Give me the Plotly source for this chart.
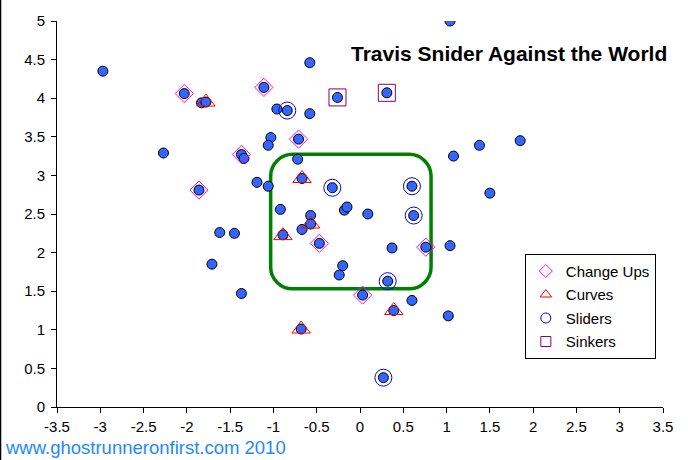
import plotly.graph_objects as go

# ---------------- data ----------------
pitch_x = [-2.97, -2.03, -1.83, -1.78, -1.11, -0.96, -0.84, -1.03, -1.06, -2.27,
           -1.37, -1.34, -1.19, -1.06, -1.86, -0.92, 1.04, -0.58, -0.26, 0.31,
           -0.58, -0.71, -0.72, 1.08, 1.38, 1.85, 1.50, -0.67, -0.32, 0.60,
           -0.18, -0.15, 0.09, -0.89, -1.62, -1.45, -1.71, -1.37, -0.57, -0.57,
           -0.67, -0.47, 0.62, 0.37, 0.76, 1.04, -0.20, -0.24, 0.32, 0.03,
           0.60, 0.39, 1.02, -0.68, 0.27]
pitch_y = [4.35, 4.06, 3.94, 3.95, 4.14, 3.86, 3.84, 3.49, 3.39, 3.29,
           3.27, 3.22, 2.91, 2.86, 2.81, 2.56, 5.00, 4.46, 4.01, 4.07,
           3.80, 3.47, 3.21, 3.25, 3.39, 3.45, 2.77, 2.96, 2.84, 2.86,
           2.55, 2.59, 2.50, 2.23, 2.26, 2.25, 1.85, 1.47, 2.48, 2.37,
           2.30, 2.12, 2.48, 2.06, 2.07, 2.09, 1.83, 1.71, 1.63, 1.45,
           1.38, 1.25, 1.18, 1.01, 0.38]

change_x = [-2.03, -1.11, -1.37, -1.86, -0.71, -0.47, 0.03, 0.76]
change_y = [4.06, 4.14, 3.27, 2.81, 3.47, 2.12, 1.45, 2.07]
curve_x = [-1.78, -0.67, -0.89, -0.57, 0.39, -0.68]
curve_y = [3.95, 2.96, 2.22, 2.37, 1.25, 1.01]
slider_x = [-0.84, -0.32, 0.60, 0.62, 0.32, 0.27]
slider_y = [3.84, 2.84, 2.86, 2.48, 1.63, 0.38]
sinker_x = [-0.26, 0.31]
sinker_y = [4.01, 4.07]

x_ticks = [-3.5, -3, -2.5, -2, -1.5, -1, -0.5, 0, 0.5, 1, 1.5, 2, 2.5, 3, 3.5]
x_tick_labels = ["-3.5", "-3", "-2.5", "-2", "-1.5", "-1", "-0.5", "0",
                 "0.5", "1", "1.5", "2", "2.5", "3", "3.5"]
y_ticks = [0, 0.5, 1, 1.5, 2, 2.5, 3, 3.5, 4, 4.5, 5]
y_tick_labels = ["0", "0.5", "1", "1.5", "2", "2.5", "3", "3.5", "4", "4.5", "5"]

series_names = ["Change Ups", "Curves", "Sliders", "Sinkers"]

# strike-zone box (data units)
zone_x0, zone_x1 = -1.032, 0.821
zone_y0, zone_y1 = 1.531, 3.273
zone_rx, zone_ry = 0.254, 0.282

# ---------------- styles ----------------
FONT = "Arial, 'Liberation Sans', sans-serif"
PT_BLUE = "#3366FF"

def rounded_rect_path(x0, x1, y0, y1, rx, ry):
    k = 0.5523
    p = []
    p.append(f"M {x0 + rx},{y1}")
    p.append(f"L {x1 - rx},{y1}")
    p.append(f"C {x1 - rx + k * rx},{y1} {x1},{y1 - ry + k * ry} {x1},{y1 - ry}")
    p.append(f"L {x1},{y0 + ry}")
    p.append(f"C {x1},{y0 + ry - k * ry} {x1 - rx + k * rx},{y0} {x1 - rx},{y0}")
    p.append(f"L {x0 + rx},{y0}")
    p.append(f"C {x0 + rx - k * rx},{y0} {x0},{y0 + ry - k * ry} {x0},{y0 + ry}")
    p.append(f"L {x0},{y1 - ry}")
    p.append(f"C {x0},{y1 - ry + k * ry} {x0 + rx - k * rx},{y1} {x0 + rx},{y1}")
    p.append("Z")
    return " ".join(p)

fig = go.Figure()

fig.add_trace(go.Scatter(
    x=pitch_x, y=pitch_y, mode="markers", showlegend=False, hoverinfo="x+y",
    marker=dict(symbol="circle", size=10, color=PT_BLUE,
                line=dict(color="black", width=1)),
))

overlay = [
    (series_names[0], change_x, change_y, "diamond-open", 14, "#FF00FF"),
    (series_names[1], curve_x, curve_y, "triangle-up-open", 16, "#FF0000"),
    (series_names[2], slider_x, slider_y, "circle-open", 17, "#0000FF"),
    (series_names[3], sinker_x, sinker_y, "square-open", 17, "#800080"),
]
for name, xs, ys, sym, sz, col in overlay:
    fig.add_trace(go.Scatter(
        x=xs, y=ys, mode="markers", name=name, legendgroup=name, showlegend=False,
        marker=dict(symbol=sym, size=sz, color=col, line=dict(color=col, width=1)),
    ))
for name, xs, ys, sym, sz, col in overlay:
    fig.add_trace(go.Scatter(
        x=[None], y=[None], mode="markers", name=name, legendgroup=name, showlegend=True,
        marker=dict(symbol=sym, size=10, color=col, line=dict(color=col, width=1)),
    ))

fig.add_shape(type="path", xref="x", yref="y",
              path=rounded_rect_path(zone_x0, zone_x1, zone_y0, zone_y1, zone_rx, zone_ry),
              line=dict(color="#008000", width=3.5), layer="below")

# left edge frame line
fig.add_shape(type="line", xref="paper", yref="paper",
              x0=-0.0932, x1=-0.0932, y0=-0.2, y1=1.1,
              line=dict(color="black", width=1.5))

fig.add_annotation(text="<b>Travis Snider Against the World</b>", xref="paper", yref="paper",
                   x=1.01, y=0.916, xanchor="right", yanchor="middle", showarrow=False,
                   font=dict(family=FONT, size=21, color="black"))
fig.add_annotation(text="www.ghostrunneronfirst.com 2010", xref="paper", yref="paper",
                   x=-0.089, y=-0.106, xanchor="left", yanchor="middle", showarrow=False,
                   font=dict(family=FONT, size=18.5, color="#1E88FF"))

axis_common = dict(showgrid=False, zeroline=False, showline=True, linecolor="black",
                   linewidth=1, ticks="outside", ticklen=5, tickcolor="black", tickwidth=1,
                   tickfont=dict(family=FONT, size=15, color="black"), mirror=False)

fig.update_layout(
    width=688, height=460,
    margin=dict(l=57, r=25, t=17, b=53),
    paper_bgcolor="white", plot_bgcolor="white",
    font=dict(family=FONT, size=15, color="black"),
    xaxis=dict(range=[-3.5, 3.5], tickmode="array", tickvals=x_ticks, ticktext=x_tick_labels,
               ticklabelstandoff=1, **axis_common),
    yaxis=dict(range=[0, 5], tickmode="array", tickvals=y_ticks, ticktext=y_tick_labels,
               ticklabelstandoff=3, **axis_common),
    legend=dict(x=0.772, y=0.397, xanchor="left", yanchor="top",
                bgcolor="white", bordercolor="black", borderwidth=1,
                font=dict(family=FONT, size=15, color="black"),
                tracegroupgap=1, itemsizing="trace"),
    showlegend=True,
)

fig.write_html("out.html", config={"displayModeBar": False},
               post_script="document.body.style.margin='0';document.body.style.overflow='hidden';")
